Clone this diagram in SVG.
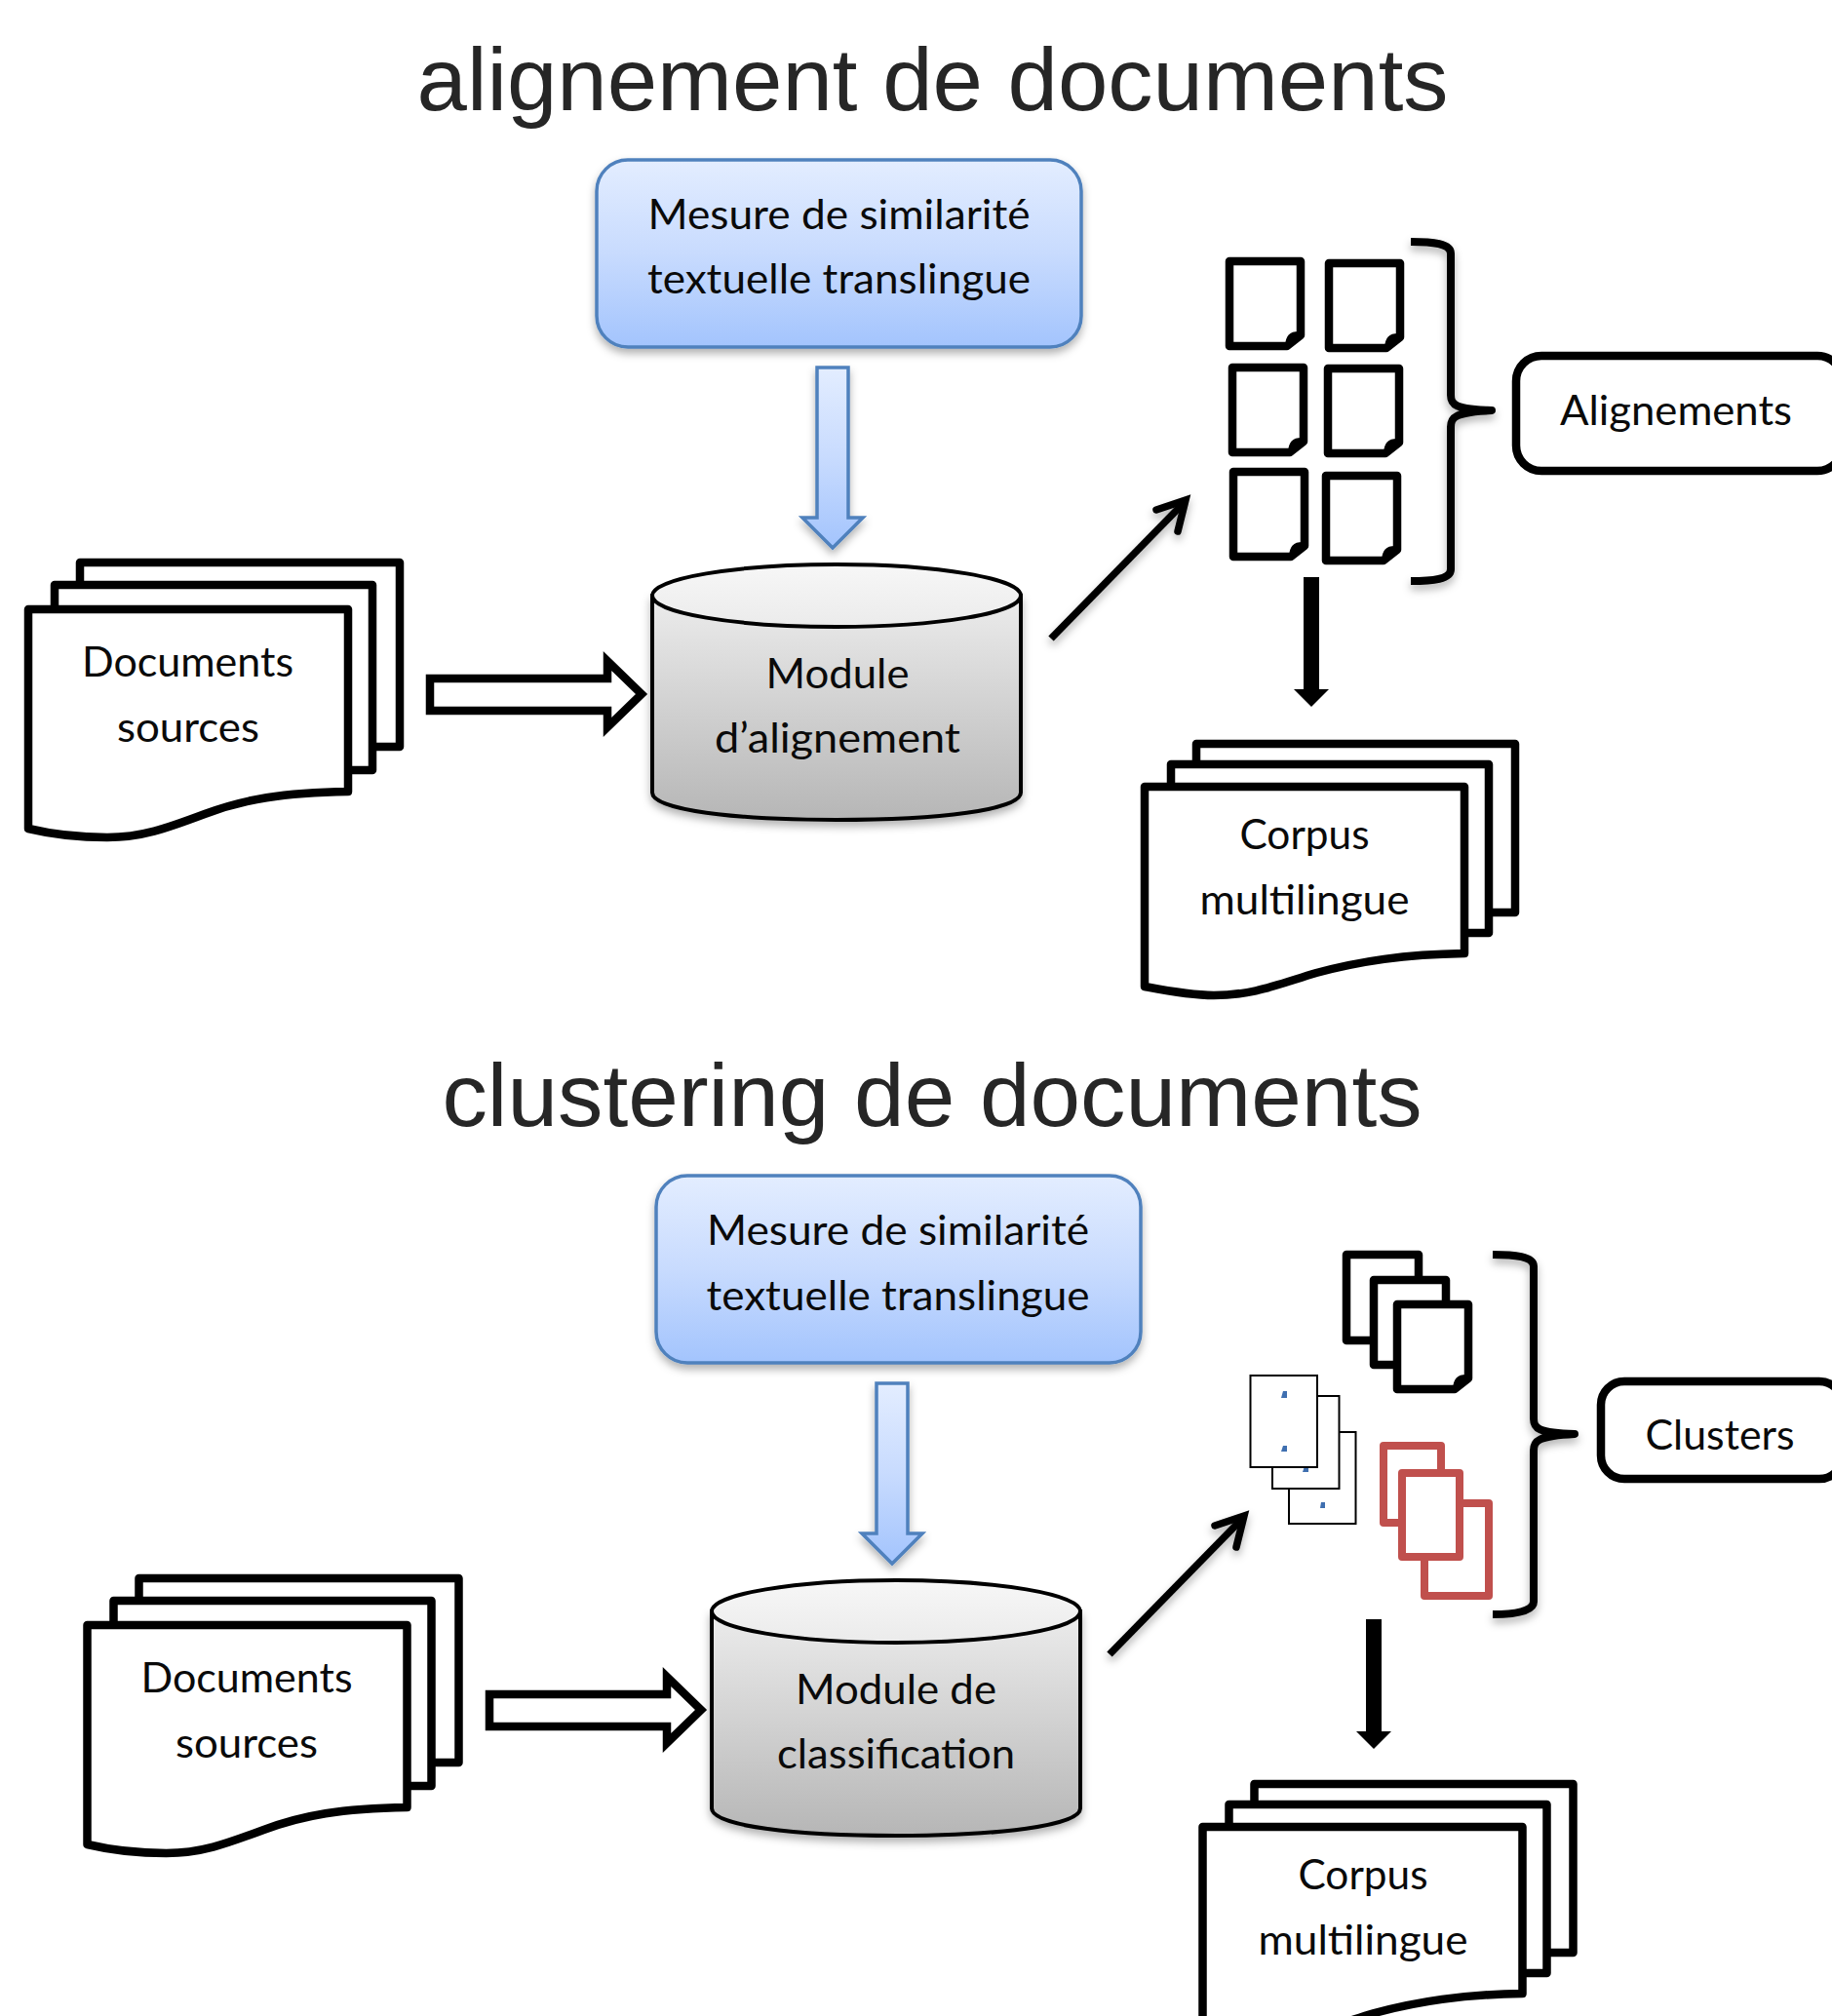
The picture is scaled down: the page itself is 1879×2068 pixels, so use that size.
<svg xmlns="http://www.w3.org/2000/svg" width="1879" height="2068" viewBox="0 0 1879 2068">
<style>
.t{font-family:"Lato","Liberation Sans",sans-serif;font-size:43px;fill:#0a0a0a;text-anchor:middle}
.h{font-family:"Liberation Sans",Arial,sans-serif;font-size:90px;fill:#262626;text-anchor:middle}
.k{fill:#fff;stroke:#000;stroke-width:8.500;stroke-linejoin:round}
.r{fill:#fff;stroke:#c0504d;stroke-width:8;stroke-linejoin:round}
.th{fill:#fff;stroke:#000;stroke-width:2}
.n{fill:none;stroke:#000;stroke-width:8;stroke-linecap:butt;stroke-linejoin:round}
.b{stroke:#4f81bd;stroke-width:3.5}
.c{stroke:#000;stroke-width:4}
.d{fill:#3f6fb0}
</style>
<defs>
<linearGradient id="gb" x1="0" y1="0" x2="0" y2="1"><stop offset="0" stop-color="#e3edff"/><stop offset=".5" stop-color="#c8dbfe"/><stop offset="1" stop-color="#a3c4fd"/></linearGradient>
<linearGradient id="gc" x1="0" y1="0" x2="0" y2="1"><stop offset="0" stop-color="#ececec"/><stop offset="1" stop-color="#b6b6b6"/></linearGradient>
<linearGradient id="gt" x1="0" y1="0" x2="0" y2="1"><stop offset="0" stop-color="#f7f7f7"/><stop offset="1" stop-color="#ebebeb"/></linearGradient>
<filter id="s" x="-15%" y="-15%" width="130%" height="135%"><feDropShadow dx="0" dy="5" stdDeviation="4" flood-color="#000" flood-opacity=".3"/></filter>
<g id="stack">
<rect class="k" x="82" y="577" width="328" height="189"/>
<rect class="k" x="56" y="600" width="326" height="190"/>
<path class="k" d="M29,625H357V812C290,813 250,820 210,835C170,850 145,859 110,859C78,859 50,855 29,850Z"/>
</g>
<g id="stackC">
<rect class="k" x="1227" y="763" width="327" height="173"/>
<rect class="k" x="1201" y="784" width="326" height="173"/>
<path class="k" d="M1174,807H1502V978C1440,979 1395,986 1350,998C1310,1010 1285,1021 1245,1021C1220,1021 1195,1016 1174,1012Z"/>
</g>
<g id="blueBox">
<rect class="b" x="612" y="164" width="497" height="192" rx="32" fill="url(#gb)" filter="url(#s)"/>
</g>
<path id="blueArrow" class="b" fill="url(#gb)" d="M838,377H870V531H885L854,562L823,531H838Z" filter="url(#s)"/>
<g id="cyl">
<path class="c" fill="url(#gc)" d="M669,611V813C669,831 754,841 858,841C962,841 1047,831 1047,813V611Z" filter="url(#s)"/>
<ellipse class="c" cx="858" cy="611" rx="189" ry="32" fill="url(#gt)"/>
</g>
<path id="fat" fill="#fff" stroke="#000" stroke-width="8.500" stroke-miterlimit="6" d="M441,696H623V678L658,712L623,746V729H441Z"/>
<g id="diag" filter="url(#s)">
<path fill="none" stroke="#000" stroke-width="7.500" stroke-linecap="butt" d="M1078,655L1213,517"/>
<path fill="none" stroke="#000" stroke-width="7.500" stroke-linecap="round" stroke-linejoin="miter" d="M1186,523L1216,513L1208,545"/>
</g>
<path id="down" fill="#000" d="M1337,592H1353V707H1363L1345,725L1327,707H1337Z"/>
<path id="page" class="k" d="M0,0H73V76L59,87H0Z"/>
<path id="fold" fill="none" stroke="#000" stroke-width="6" stroke-linejoin="round" d="M71,75C63,75 61,78 60,86"/>
</defs>
<rect width="1879" height="2068" fill="#fff"/>

<text class="h" x="956.500" y="113" textLength="1058" lengthAdjust="spacingAndGlyphs">alignement de documents</text>
<text class="h" x="956" y="1155" textLength="1005" lengthAdjust="spacingAndGlyphs">clustering de documents</text>

<g id="connectors">
<use href="#blueArrow"/>
<use href="#fat"/>
<use href="#diag"/>
<use href="#down"/>
<use href="#blueArrow" transform="translate(61,1042)"/>
<use href="#fat" transform="translate(61,1042)"/>
<use href="#diag" transform="translate(60,1042)"/>
<use href="#down" transform="translate(64,1069)"/>
</g>

<g id="mesure1">
<use href="#blueBox"/>
<text class="t" x="860.500" y="235" textLength="392" lengthAdjust="spacingAndGlyphs">Mesure de similarité</text>
<text class="t" x="860.500" y="301" textLength="393" lengthAdjust="spacingAndGlyphs">textuelle translingue</text>
</g>
<g id="module1">
<use href="#cyl"/>
<text class="t" x="859" y="706" textLength="147" lengthAdjust="spacingAndGlyphs">Module</text>
<text class="t" x="859" y="772" textLength="252" lengthAdjust="spacingAndGlyphs">d’alignement</text>
</g>
<g id="docs1">
<use href="#stack"/>
<text class="t" x="192.500" y="694" textLength="217" lengthAdjust="spacingAndGlyphs">Documents</text>
<text class="t" x="193" y="761" textLength="146" lengthAdjust="spacingAndGlyphs">sources</text>
</g>
<g id="corpus1">
<use href="#stackC"/>
<text class="t" x="1338" y="871" textLength="133" lengthAdjust="spacingAndGlyphs">Corpus</text>
<text class="t" x="1338" y="938" textLength="215" lengthAdjust="spacingAndGlyphs">multilingue</text>
</g>
<g id="pages1">
<use href="#page" x="1261" y="268"/><use href="#fold" x="1261" y="268"/>
<use href="#page" x="1363" y="270"/><use href="#fold" x="1363" y="270"/>
<use href="#page" x="1264" y="377"/><use href="#fold" x="1264" y="377"/>
<use href="#page" x="1362" y="378"/><use href="#fold" x="1362" y="378"/>
<use href="#page" x="1265" y="484"/><use href="#fold" x="1265" y="484"/>
<use href="#page" x="1360" y="488"/><use href="#fold" x="1360" y="488"/>
</g>
<g id="brace1">
<path class="n" filter="url(#s)" d="M1447,248C1470,248 1488,250 1488,260V405C1488,415 1492,420 1530,421C1492,423 1488,428 1488,438V584C1488,594 1470,596 1447,596"/>
</g>
<g id="alignements">
<rect class="k" x="1555" y="365" width="335" height="118" rx="26"/>
<text class="t" x="1719" y="436" textLength="238" lengthAdjust="spacingAndGlyphs">Alignements</text>
</g>

<g id="mesure2">
<use href="#blueBox" transform="translate(61,1042)"/>
<text class="t" x="921" y="1277" textLength="392" lengthAdjust="spacingAndGlyphs">Mesure de similarité</text>
<text class="t" x="921" y="1344" textLength="393" lengthAdjust="spacingAndGlyphs">textuelle translingue</text>
</g>
<g id="module2">
<use href="#cyl" transform="translate(61,1042)"/>
<text class="t" x="919" y="1748" textLength="206" lengthAdjust="spacingAndGlyphs">Module de</text>
<text class="t" x="919" y="1814" textLength="244" lengthAdjust="spacingAndGlyphs">classification</text>
</g>
<g id="docs2">
<use href="#stack" transform="translate(60.500,1042)"/>
<text class="t" x="253" y="1736" textLength="217" lengthAdjust="spacingAndGlyphs">Documents</text>
<text class="t" x="253" y="1803" textLength="146" lengthAdjust="spacingAndGlyphs">sources</text>
</g>
<g id="corpus2">
<use href="#stackC" transform="translate(59.500,1067)"/>
<text class="t" x="1398" y="1938" textLength="133" lengthAdjust="spacingAndGlyphs">Corpus</text>
<text class="t" x="1398" y="2005" textLength="215" lengthAdjust="spacingAndGlyphs">multilingue</text>
</g>
<g id="pagesBlack">
<rect class="k" x="1381" y="1287" width="74" height="88"/>
<rect class="k" x="1409" y="1313" width="74" height="87"/>
<use href="#page" x="1433" y="1338"/><use href="#fold" x="1433" y="1338"/>
</g>
<g id="pagesThin">
<rect class="th" x="1322" y="1469" width="68.500" height="94"/>
<path class="d" d="M1354,1547L1355,1541H1359V1547Z"/>
<rect class="th" x="1305" y="1432" width="68.500" height="95"/>
<path class="d" d="M1336,1510L1338,1504H1342V1510Z"/>
<rect class="th" x="1282.500" y="1411" width="68.500" height="94"/>
<path class="d" d="M1314,1434L1316,1427H1320V1434Z"/>
<path class="d" d="M1314,1489L1316,1483H1320V1489Z"/>
</g>
<g id="pagesRed">
<rect class="r" x="1461" y="1542" width="66" height="95"/>
<rect class="r" x="1419" y="1483" width="59" height="79"/>
<rect class="r" x="1438" y="1511" width="59" height="86"/>
</g>
<g id="brace2">
<path class="n" filter="url(#s)" d="M1531,1287C1553,1287 1573,1289 1573,1299V1455C1573,1465 1577,1470 1615,1471C1577,1473 1573,1478 1573,1488V1643C1573,1653 1553,1656 1531,1656"/>
</g>
<g id="clusters">
<rect class="k" x="1642" y="1417" width="248" height="100" rx="24"/>
<text class="t" x="1764" y="1487" textLength="153" lengthAdjust="spacingAndGlyphs">Clusters</text>
</g>
</svg>
